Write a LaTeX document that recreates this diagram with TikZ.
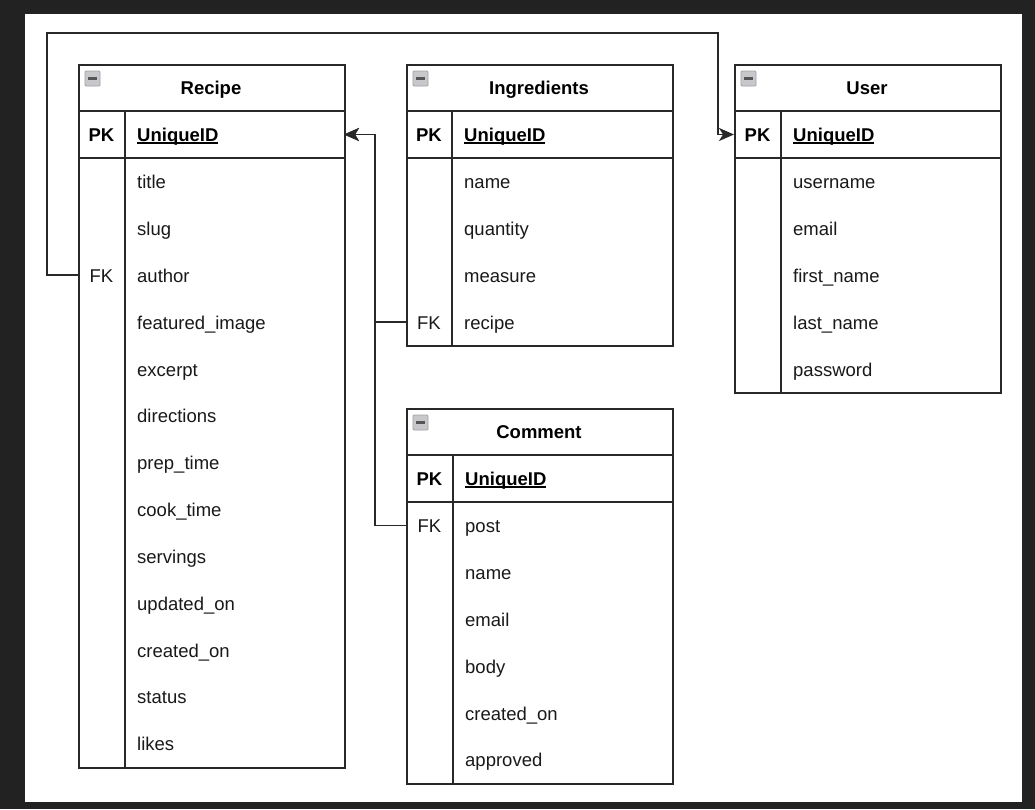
\documentclass[tikz,border=0pt]{standalone}
\usepackage{fontspec}
\setmainfont{Liberation Sans}
\usetikzlibrary{arrows.meta}
\definecolor{bgdark}{RGB}{34,34,34}
\definecolor{linec}{RGB}{40,40,40}
\definecolor{txtc}{RGB}{25,25,25}
\definecolor{iconfill}{RGB}{200,200,204}
\definecolor{iconedge}{RGB}{160,160,165}
\definecolor{iconbar}{RGB}{85,85,85}
\newcommand\erul[1]{\setbox0\hbox{#1}\rlap{\rule[-2pt]{\wd0}{1.3pt}}\box0}
\newcommand\ertable[8]{%
  \pgfmathsetmacro\erW{#3-#2}%
  \pgfmathsetmacro\erH{94+#7*46.85}%
  \node[tablebox, minimum width=\erW pt, minimum height=\erH pt] (#1) at (#2,#4) {};
  \draw[rowline] (#2,#4+47) -- (#3,#4+47);
  \draw[rowline] (#2,#4+94) -- (#3,#4+94);
  \draw[rowline] (#5,#4+47) -- (#5,#4+\erH);
  \draw[fill=iconfill, draw=iconedge, line width=0.8pt, rounded corners=1pt] (#2+7,#4+7) rectangle (#2+22,#4+22);
  \draw[iconbar, line width=2.4pt] (#2+10,#4+14.5) -- (#2+19,#4+14.5);
  \node[titletxt] (#1-title) at ({(#2+#3)/2},#4+23.5+7.2) {#6};
  \node[keytxt] (#1-pk) at ({(#2+#5)/2},#4+70.5+7.2) {PK};
  \node[idtxt] (#1-id) at (#5+12,#4+70.5+7.2) {\erul{UniqueID}};
  \coordinate (#1-pkL) at (#2,#4+70.5);
  \coordinate (#1-pkR) at (#3,#4+70.5);
  \foreach \f [count=\i] in {#8} {
    \node[fieldtxt] (#1-f\i) at (#5+12,{#4+94+(\i-0.5)*46.85+7.2}) {\f};
    \coordinate (#1-r\i) at (#2,{#4+94+(\i-0.5)*46.85});
  }
}
\begin{document}
\begin{tikzpicture}[x=1pt,y=-1pt,
  every node/.style={font=\fontsize{18.5}{22}\selectfont, text=txtc, inner sep=0pt},
  tablebox/.style={draw=linec, line width=1.5pt, anchor=north west, inner sep=0pt, fill=white},
  rowline/.style={draw=linec, line width=1.5pt},
  titletxt/.style={anchor=base, font=\fontsize{18.5}{22}\selectfont\bfseries, text=black},
  keytxt/.style={anchor=base, font=\fontsize{18.5}{22}\selectfont\bfseries, text=black},
  idtxt/.style={anchor=base west, font=\fontsize{18.5}{22}\selectfont\bfseries, text=black},
  fieldtxt/.style={anchor=base west},
  fktxt/.style={anchor=base},
  conn/.style={draw=linec, line width=1.8pt},
  arr/.style={-{Stealth[length=15pt,width=13pt,inset=4pt]}}
]
\path[use as bounding box, fill=bgdark] (0,0) rectangle (1035,809);
\fill[white] (25,14) rectangle (1022,802);

\ertable{recipe}{78}{344}{64}{125}{Recipe}{13}{title,slug,author,featured\_image,excerpt,directions,prep\_time,cook\_time,servings,updated\_on,created\_on,status,likes}
\ertable{ingr}{406}{672}{64}{452}{Ingredients}{4}{name,quantity,measure,recipe}
\ertable{user}{734}{1000}{64}{781}{User}{5}{username,email,first\_name,last\_name,password}
\ertable{comment}{406}{672}{408}{453}{Comment}{6}{post,name,email,body,created\_on,approved}

\node[fktxt] (recipe-fk) at (101.5,{158+2.5*46.85+7.2}) {FK};
\node[fktxt] (ingr-fk) at (429,{158+3.5*46.85+7.2}) {FK};
\node[fktxt] (comment-fk) at (429.5,{502+0.5*46.85+7.2}) {FK};

\coordinate (bendA) at (47,33);
\coordinate (bendB) at (718,33);
\coordinate (bendC) at (375,134.5);

\draw[conn, arr] (recipe-r3) -| (bendA) -- (bendB) |- (user-pkL);
\draw[conn, arr] (ingr-r4) -| (bendC) -- (recipe-pkR);
\draw[conn, arr] (comment-r1) -| (bendC) -- (recipe-pkR);
\end{tikzpicture}
\end{document}
